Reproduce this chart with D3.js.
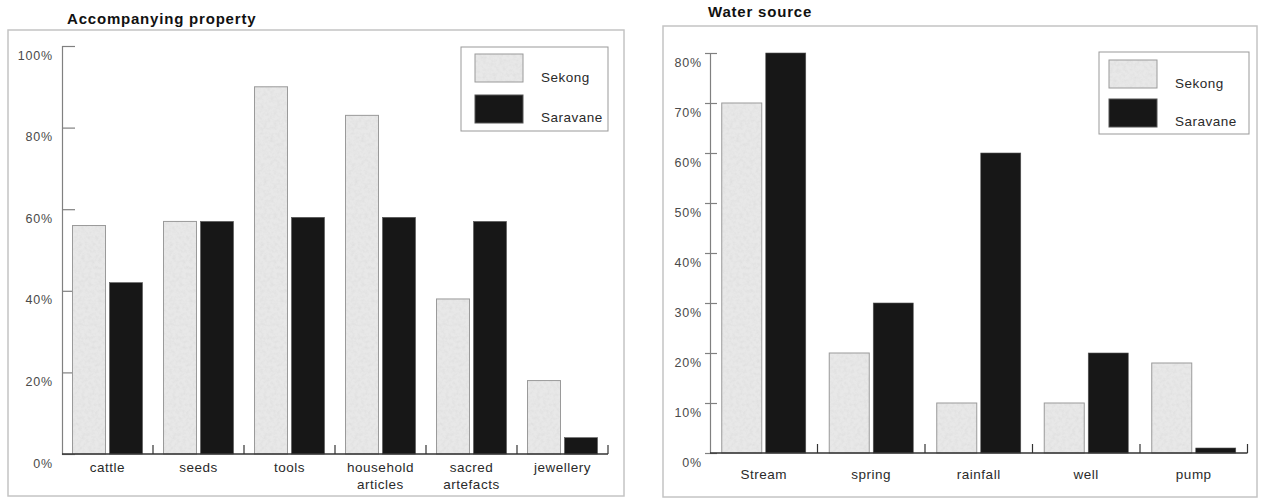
<!DOCTYPE html>
<html>
<head>
<meta charset="utf-8">
<script src="https://cdn.jsdelivr.net/npm/d3@7"></script>
<style>
  html, body { margin: 0; padding: 0; background: #fff; }
  svg { display: block; font-family: "Liberation Sans", Arial, Helvetica, sans-serif; }
</style>
</head>
<body>
<svg id="chart" width="1261" height="499"></svg>
<script>
// Survey results by province
const seriesNames = ["Sekong", "Saravane"];

const propertyCategories = [["cattle"], ["seeds"], ["tools"], ["household", "articles"], ["sacred", "artefacts"], ["jewellery"]];
const propertySekong   = [56, 57, 90, 83, 38, 18];
const propertySaravane = [42, 57, 58, 58, 57, 4];
const propertyTicks = [0, 20, 40, 60, 80, 100];

const waterCategories = [["Stream"], ["spring"], ["rainfall"], ["well"], ["pump"]];
const waterSekong   = [70, 20, 10, 10, 18];
const waterSaravane = [80, 30, 60, 20, 1];
const waterTicks = [0, 10, 20, 30, 40, 50, 60, 70, 80];

const svg = d3.select("#chart");

// speckled grain for the light bars
const defs = svg.append("defs");
const grain = defs.append("filter").attr("id", "grain")
  .attr("x", 0).attr("y", 0).attr("width", 1).attr("height", 1);
grain.append("feTurbulence").attr("type", "fractalNoise")
  .attr("baseFrequency", 0.3).attr("numOctaves", 3).attr("seed", 7).attr("result", "n");
grain.append("feColorMatrix").attr("in", "n").attr("type", "matrix")
  .attr("values", "0 0 0 0 0.7  0 0 0 0 0.7  0 0 0 0 0.7  1.2 0 0 0 -0.45")
  .attr("result", "g");
grain.append("feComposite").attr("in", "g").attr("in2", "SourceGraphic").attr("operator", "in").attr("result", "gi");
const merge = grain.append("feMerge");
merge.append("feMergeNode").attr("in", "SourceGraphic");
merge.append("feMergeNode").attr("in", "gi");

const colors = { Sekong: "#e8e8e8", Saravane: "#171717" };

function drawPanel(cfg) {
  const g = svg.append("g");

  // frame
  g.append("rect")
    .attr("x", cfg.frame[0]).attr("y", cfg.frame[1])
    .attr("width", cfg.frame[2] - cfg.frame[0]).attr("height", cfg.frame[3] - cfg.frame[1])
    .attr("fill", "none").attr("stroke", "#c4c4c4").attr("stroke-width", 1.5);

  // title
  g.append("text")
    .attr("x", cfg.titleX).attr("y", cfg.titleY)
    .attr("font-size", 15).attr("font-weight", "bold")
    .attr("letter-spacing", 0.8).attr("fill", "#111")
    .text(cfg.title);

  const keys = cfg.categories.map(c => c.join(" "));
  const x = d3.scaleBand().domain(keys).range(cfg.xRange).paddingInner(0).paddingOuter(0);
  const xs = d3.scaleBand().domain(seriesNames).range([0, x.bandwidth()])
    .paddingInner(cfg.innerPad).paddingOuter(cfg.outerPad);
  const y = d3.scaleLinear().domain([0, cfg.max]).range(cfg.yRange);

  // y axis
  const yAxis = d3.axisLeft(y).tickValues(cfg.ticks).tickFormat(d => d + "%")
    .tickSize(cfg.tickIn).tickPadding(cfg.labelGap);
  const ya = g.append("g").attr("transform", `translate(${cfg.xRange[0]},0)`).call(yAxis);
  ya.select(".domain").attr("stroke", "#808080").attr("stroke-width", 1.2);
  ya.selectAll(".tick line").attr("stroke", "#808080").attr("stroke-width", 1.2)
    .attr("x1", cfg.tickOut).attr("x2", -cfg.tickIn);
  ya.selectAll(".tick text")
    .attr("x", -cfg.labelGap)
    .attr("dy", "1.05em")
    .attr("font-size", 12.5).attr("letter-spacing", 0.8)
    .attr("fill", "#4a4a4a").attr("font-family", null);

  // bars
  const rows = keys.map((k, i) => ({ key: k, Sekong: cfg.sekong[i], Saravane: cfg.saravane[i] }));
  const grp = g.append("g").selectAll("g").data(rows).join("g")
    .attr("transform", d => `translate(${x(d.key)},0)`);
  grp.selectAll("rect.sek").data(d => [d]).join("rect").attr("class", "sek")
    .attr("x", xs("Sekong")).attr("width", xs.bandwidth())
    .attr("y", d => y(d.Sekong)).attr("height", d => y(0) - y(d.Sekong))
    .attr("fill", colors.Sekong).attr("filter", "url(#grain)");
  grp.selectAll("rect.sekline").data(d => [d]).join("rect").attr("class", "sekline")
    .attr("x", xs("Sekong")).attr("width", xs.bandwidth())
    .attr("y", d => y(d.Sekong)).attr("height", d => y(0) - y(d.Sekong))
    .attr("fill", "none").attr("stroke", "#9a9a9a").attr("stroke-width", 1);
  grp.selectAll("rect.sar").data(d => [d]).join("rect").attr("class", "sar")
    .attr("x", xs("Saravane")).attr("width", xs.bandwidth())
    .attr("y", d => y(d.Saravane)).attr("height", d => y(0) - y(d.Saravane))
    .attr("fill", colors.Saravane).attr("stroke", "#555").attr("stroke-width", 0.6);

  // x baseline and boundary ticks
  g.append("line")
    .attr("x1", cfg.xRange[0]).attr("x2", cfg.xRange[1])
    .attr("y1", y(0)).attr("y2", y(0))
    .attr("stroke", "#333").attr("stroke-width", 1.3);
  g.append("g").selectAll("line").data(keys).join("line")
    .attr("x1", d => x(d) + x.bandwidth()).attr("x2", d => x(d) + x.bandwidth())
    .attr("y1", y(0)).attr("y2", y(0) - 9)
    .attr("stroke", "#333").attr("stroke-width", 1.2);

  // category labels
  const lab = g.append("g").selectAll("text").data(cfg.categories).join("text")
    .attr("x", (d, i) => x(keys[i]) + x.bandwidth() / 2)
    .attr("y", cfg.labelY)
    .attr("text-anchor", "middle")
    .attr("font-size", 13.5).attr("letter-spacing", 0.5).attr("fill", "#2a2a2a");
  lab.selectAll("tspan").data(d => d).join("tspan")
    .attr("x", function () { return this.parentNode.getAttribute("x"); })
    .attr("dy", (d, i) => i === 0 ? 0 : 17)
    .text(d => d);

  // legend
  const L = cfg.legend;
  const lg = g.append("g");
  lg.append("rect").attr("x", L.box[0]).attr("y", L.box[1])
    .attr("width", L.box[2] - L.box[0]).attr("height", L.box[3] - L.box[1])
    .attr("fill", "#fff").attr("stroke", "#999").attr("stroke-width", 1);
  seriesNames.forEach((s, i) => {
    lg.append("rect").attr("x", L.swX).attr("y", L.swY[i])
      .attr("width", L.swW).attr("height", L.swH)
      .attr("fill", colors[s]).attr("filter", s === "Sekong" ? "url(#grain)" : null);
    lg.append("rect").attr("x", L.swX).attr("y", L.swY[i])
      .attr("width", L.swW).attr("height", L.swH)
      .attr("fill", "none").attr("stroke", s === "Sekong" ? "#9a9a9a" : "#555").attr("stroke-width", 1);
    lg.append("text").attr("x", L.textX).attr("y", L.textY[i])
      .attr("font-size", 13.5).attr("letter-spacing", 0.5).attr("fill", "#2a2a2a")
      .text(s);
  });
}

drawPanel({
  title: "Accompanying property",
  titleX: 67, titleY: 24,
  frame: [8, 30, 624, 496],
  categories: propertyCategories,
  sekong: propertySekong, saravane: propertySaravane,
  ticks: propertyTicks, max: 100,
  xRange: [62, 608], yRange: [454, 46],
  innerPad: 0.108, outerPad: 0.284,
  tickIn: -13, tickOut: 0, labelGap: 9,
  labelY: 472,
  legend: { box: [461, 47, 608, 131], swX: 475, swW: 48, swH: 28, swY: [54, 95],
            textX: 541, textY: [82, 122] }
});

drawPanel({
  title: "Water source",
  titleX: 708, titleY: 17,
  frame: [663, 26, 1257, 497],
  categories: waterCategories,
  sekong: waterSekong, saravane: waterSaravane,
  ticks: waterTicks, max: 80,
  xRange: [710, 1247.5], yRange: [453, 53],
  innerPad: 0.091, outerPad: 0.267,
  tickIn: -7, tickOut: -5, labelGap: 8,
  labelY: 479,
  legend: { box: [1099, 52, 1249, 134], swX: 1109, swW: 48, swH: 28, swY: [60, 99],
            textX: 1175, textY: [88, 126] }
});
</script>
</body>
</html>
